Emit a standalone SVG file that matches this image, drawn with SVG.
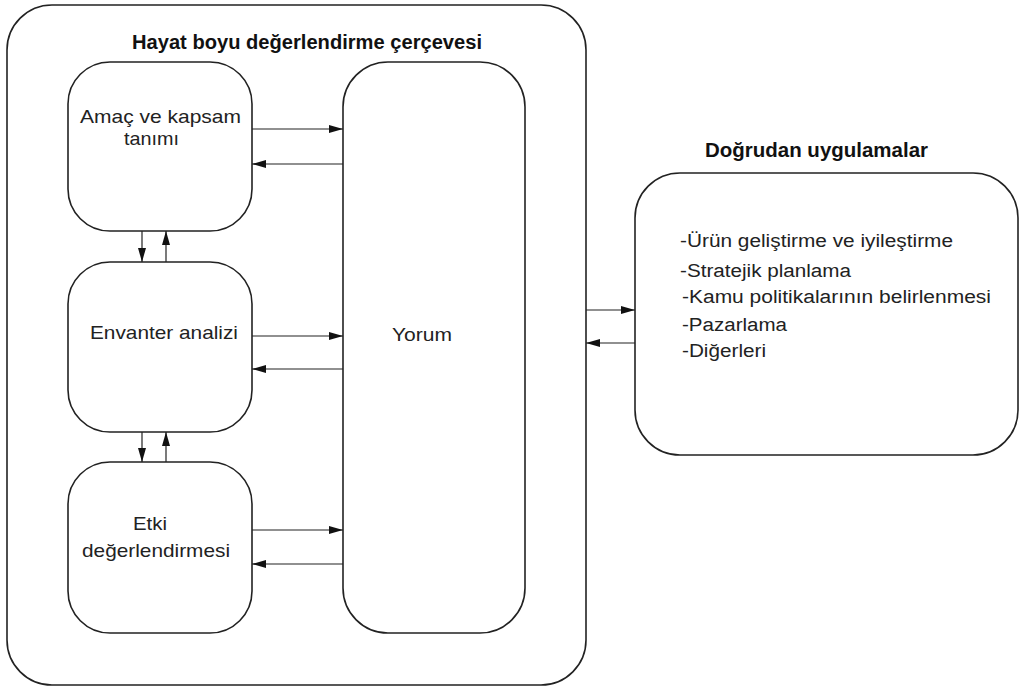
<svg xmlns="http://www.w3.org/2000/svg" width="1020" height="688" viewBox="0 0 1020 688">
<style>
.box{fill:#fff;stroke:#222;stroke-width:1.6}
.t{font-family:"Liberation Sans",Arial,sans-serif;font-size:18.5px;fill:#222}
.h{font-family:"Liberation Sans",Arial,sans-serif;font-size:19.5px;font-weight:bold;fill:#111}
.c{stroke:#222;stroke-width:1.2;fill:none;marker-end:url(#ah)}
</style>
<defs>
<marker id="ah" markerUnits="userSpaceOnUse" markerWidth="15" markerHeight="9" refX="14" refY="4" orient="auto">
<path d="M0,0 L14,4 L0,8 z" fill="#111"/>
</marker>
</defs>
<rect x="0" y="0" width="1020" height="688" fill="#fff"/>
<g id="frame">
<rect class="box" x="7" y="5" width="579" height="680" rx="45"/>
<text class="h" x="132" y="49" textLength="350" lengthAdjust="spacingAndGlyphs">Hayat boyu değerlendirme çerçevesi</text>
</g>
<g id="amac">
<rect class="box" x="68" y="62" width="184" height="169" rx="42"/>
<text class="t" x="80" y="123" textLength="161" lengthAdjust="spacingAndGlyphs">Amaç ve kapsam</text>
<text class="t" x="124" y="145" textLength="55" lengthAdjust="spacingAndGlyphs">tanımı</text>
</g>
<g id="envanter">
<rect class="box" x="68" y="262" width="184" height="170" rx="42"/>
<text class="t" x="90" y="339" textLength="148" lengthAdjust="spacingAndGlyphs">Envanter analizi</text>
</g>
<g id="etki">
<rect class="box" x="68" y="462" width="184" height="171" rx="42"/>
<text class="t" x="133" y="530" textLength="34" lengthAdjust="spacingAndGlyphs">Etki</text>
<text class="t" x="82" y="557" textLength="148" lengthAdjust="spacingAndGlyphs">değerlendirmesi</text>
</g>
<g id="yorum">
<rect class="box" x="343" y="62" width="182" height="571" rx="45"/>
<text class="t" x="392" y="341" textLength="60" lengthAdjust="spacingAndGlyphs">Yorum</text>
</g>
<g id="uygulamalar">
<text class="h" x="705" y="157" textLength="223" lengthAdjust="spacingAndGlyphs">Doğrudan uygulamalar</text>
<rect class="box" x="635" y="173" width="383" height="282" rx="45"/>
<text class="t" x="680" y="247" style="font-size:18px" textLength="273" lengthAdjust="spacingAndGlyphs">-Ürün geliştirme ve iyileştirme</text>
<text class="t" x="680" y="277" style="font-size:18px" textLength="171" lengthAdjust="spacingAndGlyphs">-Stratejik planlama</text>
<text class="t" x="682" y="303" style="font-size:18px" textLength="309" lengthAdjust="spacingAndGlyphs">-Kamu politikalarının belirlenmesi</text>
<text class="t" x="682" y="331" style="font-size:18px" textLength="105" lengthAdjust="spacingAndGlyphs">-Pazarlama</text>
<text class="t" x="682" y="357" style="font-size:18px" textLength="84" lengthAdjust="spacingAndGlyphs">-Diğerleri</text>
</g>
<g id="connectors">
<line class="c" x1="252" y1="129" x2="343" y2="129"/>
<line class="c" x1="343" y1="164" x2="252" y2="164"/>
<line class="c" x1="252" y1="336" x2="343" y2="336"/>
<line class="c" x1="343" y1="369" x2="252" y2="369"/>
<line class="c" x1="252" y1="530" x2="343" y2="530"/>
<line class="c" x1="343" y1="564" x2="252" y2="564"/>
<line class="c" x1="142" y1="231" x2="142" y2="262"/>
<line class="c" x1="166" y1="262" x2="166" y2="231"/>
<line class="c" x1="142" y1="432" x2="142" y2="462"/>
<line class="c" x1="166" y1="462" x2="166" y2="432"/>
<line class="c" x1="586" y1="310" x2="635" y2="310"/>
<line class="c" x1="635" y1="343" x2="586" y2="343"/>
</g>
</svg>
